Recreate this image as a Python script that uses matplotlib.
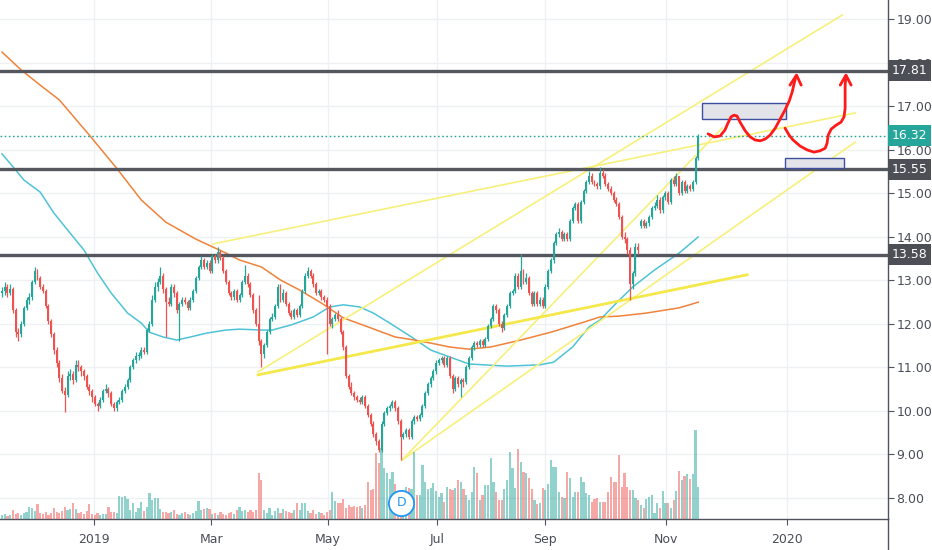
import numpy as np
import matplotlib
matplotlib.use("Agg")
import matplotlib.pyplot as plt
import matplotlib.transforms as mtransforms
from matplotlib.lines import Line2D
from matplotlib.patches import Rectangle

plt.rcParams['font.family'] = ['DejaVu Sans']

# ---- daily candles (bar index 0 .. 255) ----
closes = [
    12.75, 12.85, 12.70, 12.80, 12.30, 11.80, 11.75, 12.00, 12.35, 12.55,
    12.60, 12.95, 13.20, 13.05, 12.85, 12.75, 12.40, 12.05, 11.75, 11.40,
    11.10, 10.75, 10.45, 10.35, 10.80, 10.85, 10.70, 11.05, 11.00, 10.90,
    10.80, 10.55, 10.45, 10.30, 10.15, 10.10, 10.25, 10.45, 10.50, 10.40,
    10.15, 10.05, 10.20, 10.25, 10.45, 10.55, 10.70, 11.00, 11.15, 11.25,
    11.25, 11.40, 11.35, 11.85, 12.00, 12.55, 12.85, 12.95, 13.10, 12.80,
    12.50, 12.45, 12.85, 12.70, 12.30, 12.45, 12.55, 12.50, 12.35, 12.55,
    12.75, 13.05, 13.30, 13.45, 13.30, 13.40, 13.20, 13.55, 13.45, 13.65,
    13.50, 13.20, 12.95, 12.70, 12.60, 12.75, 12.55, 12.65, 12.95, 13.10,
    12.90, 12.65, 12.30, 12.00, 11.60, 11.30, 11.50, 11.80, 12.10, 12.15,
    12.40, 12.85, 12.55, 12.70, 12.45, 12.25, 12.15, 12.30, 12.20, 12.40,
    12.75, 13.10, 13.20, 13.10, 12.90, 12.70, 12.75, 12.60, 12.55, 12.40,
    12.00, 12.10, 12.20, 12.10, 11.80, 11.45, 10.80, 10.55, 10.40, 10.30,
    10.25, 10.20, 10.30, 10.10, 9.90, 9.70, 9.45, 9.30, 9.10, 9.70,
    9.95, 10.05, 10.10, 10.20, 10.05, 9.75, 9.40, 9.45, 9.55, 9.40,
    9.75, 9.85, 9.80, 9.90, 10.10, 10.40, 10.60, 10.75, 10.90, 11.10,
    11.15, 11.20, 11.05, 11.20, 10.80, 10.50, 10.75, 10.60, 10.70, 10.65,
    11.00, 11.20, 11.45, 11.55, 11.50, 11.60, 11.50, 11.65, 11.95, 12.10,
    12.40, 12.30, 12.00, 11.90, 12.20, 12.40, 12.70, 12.75, 13.10, 12.85,
    13.20, 12.95, 13.05, 12.70, 12.45, 12.70, 12.45, 12.55, 12.40, 12.85,
    13.20, 13.45, 13.85, 14.05, 14.10, 13.95, 14.05, 13.95, 14.35, 14.65,
    14.75, 14.35, 14.80, 15.05, 15.25, 15.40, 15.25, 15.20, 15.15, 15.45,
    15.40, 15.20, 15.10, 15.00, 14.85, 14.75, 14.45, 14.00, 13.95, 13.70,
    12.90, 13.15, 13.75, 13.70, 14.35, 14.25, 14.30, 14.45, 14.65, 14.70,
    14.85, 14.60, 14.90, 15.00, 14.80, 15.30, 15.20, 15.40, 15.00, 15.25,
    15.05, 15.15, 15.10, 15.25, 15.80, 16.32,
]
opens = [
    12.70, 12.75, 12.85, 12.70, 12.80, 12.30, 11.80, 11.75, 12.00, 12.35,
    12.55, 12.60, 12.95, 13.20, 13.05, 12.85, 12.75, 12.40, 12.05, 11.75,
    11.40, 11.10, 10.75, 10.45, 10.35, 10.80, 10.85, 10.70, 11.05, 11.00,
    10.90, 10.80, 10.55, 10.45, 10.30, 10.15, 10.10, 10.25, 10.45, 10.50,
    10.40, 10.15, 10.05, 10.20, 10.25, 10.45, 10.55, 10.70, 11.00, 11.15,
    11.25, 11.25, 11.40, 11.35, 11.85, 12.00, 12.55, 12.85, 12.95, 13.10,
    12.80, 12.50, 12.45, 12.85, 12.70, 12.30, 12.45, 12.55, 12.50, 12.35,
    12.55, 12.75, 13.05, 13.30, 13.45, 13.30, 13.40, 13.20, 13.55, 13.45,
    13.65, 13.50, 13.20, 12.95, 12.70, 12.60, 12.75, 12.55, 12.65, 12.95,
    13.10, 12.90, 12.65, 12.30, 12.00, 11.60, 11.30, 11.50, 11.80, 12.10,
    12.15, 12.40, 12.85, 12.55, 12.70, 12.45, 12.25, 12.15, 12.30, 12.20,
    12.40, 12.75, 13.10, 13.20, 13.10, 12.90, 12.70, 12.75, 12.60, 12.55,
    12.40, 12.00, 12.10, 12.20, 12.10, 11.80, 11.45, 10.80, 10.55, 10.40,
    10.30, 10.25, 10.20, 10.30, 10.10, 9.90, 9.70, 9.45, 9.30, 9.10,
    9.70, 9.95, 10.05, 10.10, 10.20, 10.05, 9.75, 9.40, 9.45, 9.55,
    9.40, 9.75, 9.85, 9.80, 9.90, 10.10, 10.40, 10.60, 10.75, 10.90,
    11.10, 11.15, 11.20, 11.05, 11.20, 10.80, 10.50, 10.75, 10.60, 10.70,
    10.65, 11.00, 11.20, 11.45, 11.55, 11.50, 11.60, 11.50, 11.65, 11.95,
    12.10, 12.40, 12.30, 12.00, 11.90, 12.20, 12.40, 12.70, 12.75, 13.10,
    12.85, 13.20, 12.95, 13.05, 12.70, 12.45, 12.70, 12.45, 12.55, 12.40,
    12.85, 13.20, 13.45, 13.85, 14.05, 14.10, 13.95, 14.05, 13.95, 14.35,
    14.65, 14.75, 14.35, 14.80, 15.05, 15.25, 15.40, 15.25, 15.20, 15.15,
    15.45, 15.40, 15.20, 15.10, 15.00, 14.85, 14.75, 14.45, 14.00, 13.95,
    13.70, 12.90, 13.15, 13.75, 14.25, 14.35, 14.25, 14.30, 14.45, 14.65,
    14.70, 14.85, 14.60, 14.90, 15.00, 14.80, 15.30, 15.20, 15.40, 15.00,
    15.25, 15.05, 15.15, 15.10, 15.25, 15.80,
]
highs = [
    12.85, 12.95, 12.90, 12.90, 12.85, 12.35, 11.90, 12.05, 12.40, 12.60,
    12.70, 13.00, 13.30, 13.25, 13.10, 12.90, 12.80, 12.45, 12.10, 11.80,
    11.45, 11.15, 10.85, 10.55, 10.90, 10.95, 10.90, 11.15, 11.15, 11.05,
    10.95, 10.85, 10.60, 10.50, 10.35, 10.20, 10.30, 10.50, 10.60, 10.55,
    10.45, 10.20, 10.25, 10.30, 10.50, 10.60, 10.75, 11.05, 11.20, 11.35,
    11.35, 11.45, 11.45, 11.90, 12.05, 12.65, 12.95, 13.05, 13.30, 13.15,
    12.85, 12.60, 12.90, 12.90, 12.75, 12.50, 12.60, 12.60, 12.55, 12.60,
    12.80, 13.10, 13.35, 13.55, 13.50, 13.45, 13.45, 13.60, 13.60, 13.75,
    13.70, 13.55, 13.25, 13.00, 12.75, 12.80, 12.80, 12.70, 13.00, 13.35,
    13.15, 12.95, 12.70, 12.35, 12.65, 11.65, 11.55, 11.85, 12.15, 12.25,
    12.45, 12.90, 12.90, 12.80, 12.75, 12.50, 12.30, 12.35, 12.35, 12.45,
    12.80, 13.15, 13.30, 13.25, 13.15, 12.95, 12.80, 12.80, 12.65, 12.60,
    12.45, 12.15, 12.25, 12.30, 12.15, 11.85, 11.50, 10.85, 10.65, 10.45,
    10.35, 10.30, 10.35, 10.35, 10.15, 9.95, 9.75, 9.50, 9.35, 9.75,
    10.00, 10.10, 10.15, 10.25, 10.25, 10.10, 9.80, 9.50, 9.60, 9.60,
    9.80, 9.90, 9.90, 9.95, 10.15, 10.45, 10.65, 10.80, 10.95, 11.15,
    11.20, 11.25, 11.25, 11.25, 11.25, 10.85, 10.80, 10.80, 10.75, 10.75,
    11.05, 11.25, 11.50, 11.60, 11.60, 11.65, 11.65, 11.70, 12.00, 12.15,
    12.45, 12.45, 12.35, 12.05, 12.25, 12.45, 12.75, 12.80, 13.15, 13.15,
    13.60, 13.25, 13.15, 13.10, 12.75, 12.75, 12.75, 12.60, 12.60, 12.90,
    13.25, 13.50, 13.90, 14.10, 14.20, 14.15, 14.10, 14.10, 14.40, 14.70,
    14.80, 14.80, 14.85, 15.10, 15.30, 15.50, 15.45, 15.30, 15.25, 15.60,
    15.55, 15.45, 15.25, 15.15, 15.05, 14.90, 14.80, 14.50, 14.10, 14.00,
    13.75, 13.20, 13.85, 13.85, 14.40, 14.40, 14.35, 14.50, 14.70, 14.80,
    14.95, 14.90, 14.95, 15.05, 15.05, 15.35, 15.40, 15.45, 15.40, 15.30,
    15.30, 15.20, 15.20, 15.30, 15.85, 16.35,
]
lows = [
    12.60, 12.65, 12.60, 12.65, 12.25, 11.70, 11.60, 11.70, 11.95, 12.30,
    12.45, 12.55, 12.90, 13.00, 12.80, 12.70, 12.35, 12.00, 11.70, 11.30,
    11.00, 10.65, 10.40, 9.97, 10.30, 10.70, 10.60, 10.65, 10.90, 10.80,
    10.70, 10.50, 10.35, 10.20, 10.10, 10.00, 10.05, 10.20, 10.40, 10.30,
    10.10, 10.00, 10.00, 10.15, 10.20, 10.40, 10.50, 10.65, 10.95, 11.10,
    11.15, 11.20, 11.30, 11.30, 11.80, 11.95, 12.50, 12.75, 12.90, 12.70,
    11.70, 12.40, 12.40, 12.60, 12.25, 11.60, 12.40, 12.45, 12.30, 12.30,
    12.50, 12.70, 13.00, 13.25, 13.25, 13.25, 13.15, 13.15, 13.40, 13.40,
    13.45, 13.15, 12.90, 12.65, 12.55, 12.55, 12.50, 12.50, 12.60, 12.90,
    12.85, 12.60, 12.25, 11.95, 11.50, 11.00, 11.20, 11.45, 11.75, 12.05,
    12.10, 12.35, 12.50, 12.50, 12.40, 12.20, 12.10, 12.10, 12.15, 12.15,
    12.35, 12.70, 13.05, 13.05, 12.85, 12.65, 12.65, 12.55, 12.50, 11.30,
    11.95, 11.90, 12.05, 12.05, 11.75, 11.40, 10.75, 10.50, 10.35, 10.25,
    10.20, 10.15, 10.15, 10.05, 9.85, 9.65, 9.40, 9.20, 9.05, 9.05,
    9.65, 9.90, 10.00, 10.05, 10.00, 9.70, 8.86, 9.35, 9.40, 9.35,
    9.35, 9.70, 9.75, 9.75, 9.85, 10.05, 10.35, 10.55, 10.70, 10.85,
    11.05, 11.10, 11.00, 11.00, 10.75, 10.40, 10.45, 10.55, 10.30, 10.55,
    10.60, 10.95, 11.15, 11.40, 11.45, 11.45, 11.45, 11.45, 11.60, 11.90,
    12.05, 12.25, 11.95, 11.80, 11.85, 12.15, 12.35, 12.65, 12.70, 12.80,
    12.80, 12.90, 12.90, 12.65, 12.40, 12.40, 12.40, 12.40, 12.35, 12.35,
    12.80, 13.15, 13.40, 13.80, 14.00, 13.90, 13.90, 13.90, 13.90, 14.30,
    14.60, 14.30, 14.30, 14.75, 15.00, 15.20, 15.20, 15.15, 15.10, 15.10,
    15.35, 15.15, 15.05, 14.95, 14.80, 14.70, 14.40, 13.95, 13.85, 13.60,
    12.54, 12.80, 13.10, 13.60, 14.20, 14.20, 14.20, 14.25, 14.40, 14.60,
    14.65, 14.55, 14.55, 14.85, 14.75, 14.75, 15.15, 15.15, 14.95, 14.95,
    15.00, 15.00, 15.05, 15.05, 15.20, 15.75,
]
volumes = [
    4, 5, 3, 4, 9, 5, 6, 4, 6, 7, 12, 11, 8, 15, 6, 5, 7, 4, 6, 11,
    7, 6, 8, 12, 9, 10, 16, 10, 6, 7, 5, 8, 15, 5, 4, 6, 4, 5, 5, 12,
    7, 7, 6, 23, 22, 23, 20, 9, 16, 7, 11, 17, 8, 12, 26, 19, 21, 21, 10, 7,
    7, 6, 7, 9, 5, 4, 6, 7, 5, 4, 6, 8, 18, 9, 10, 11, 10, 5, 6, 4,
    7, 5, 4, 6, 7, 5, 9, 12, 8, 9, 7, 9, 7, 9, 46, 39, 9, 6, 11, 4,
    8, 11, 6, 10, 8, 7, 6, 9, 16, 9, 16, 16, 8, 6, 9, 5, 7, 6, 4, 7,
    9, 27, 18, 16, 16, 20, 11, 14, 12, 13,
    12, 13, 11, 14, 37, 29, 30, 66, 56, 71, 51, 46, 40, 47, 35, 27, 27, 29, 32, 31,
    30, 67, 24, 24, 54, 37, 30, 31, 36, 28, 22,
    26, 17, 32, 30, 29, 31, 39, 37, 30, 24, 19, 27, 52, 46, 19, 24, 34, 34, 61,
    37, 27, 19, 19, 30, 39, 67, 51, 31, 70,
    57, 47, 46, 41, 30, 19, 15, 16, 31, 29,
    35, 59, 52, 52, 27, 22, 21, 47, 41, 22,
    27, 27, 42, 37, 26, 24, 17, 20, 21, 17,
    17, 17, 27, 42, 37, 37, 64, 32, 46, 32,
    29, 29, 21, 19, 14, 11, 20, 22, 24, 6,
    16, 11, 28, 16, 16, 11, 19, 28, 48, 39,
    43, 45, 40, 45, 89, 32,
]

# moving averages, sampled along the chart (bar index, price)
ma_fast_bars = [0, 5, 8, 14, 19, 27, 30, 35, 40, 46, 51, 54, 59, 64, 69, 75, 82, 87,
                95, 99, 106, 114, 120, 125, 131, 136, 142, 150, 157, 164, 171, 185,
                197, 202, 209, 215, 219, 225, 231, 239, 248, 255]
ma_fast = [15.90, 15.53, 15.30, 15.02, 14.54, 13.92, 13.69, 13.16, 12.70, 12.24,
           12.01, 11.80, 11.69, 11.62, 11.69, 11.78, 11.85, 11.87, 11.85, 11.85,
           11.97, 12.15, 12.38, 12.43, 12.38, 12.24, 12.01, 11.69, 11.39, 11.23,
           11.07, 11.02, 11.05, 11.11, 11.46, 11.92, 12.08, 12.47, 12.84, 13.23,
           13.62, 13.99]
ma_slow_bars = [0, 7, 14, 21, 32, 42, 51, 60, 71, 82, 87, 95, 102, 109, 117, 125,
                135, 144, 151, 157, 164, 171, 179, 190, 201, 212, 219, 226, 236, 248, 255]
ma_slow = [18.24, 17.83, 17.48, 17.14, 16.33, 15.57, 14.84, 14.33, 13.94, 13.62,
           13.46, 13.30, 13.00, 12.77, 12.47, 12.13, 11.90, 11.69, 11.62, 11.55,
           11.46, 11.41, 11.46, 11.62, 11.80, 12.01, 12.15, 12.17, 12.24, 12.36, 12.49]

# levels and drawings
levels = [17.81, 15.55, 13.58]
last_price = 16.32
trendlines = [  # (bar0, price0, bar1, price1)
    (77.3, 13.83, 312.5, 16.84),
    (93.8, 10.89, 307.7, 19.09),
    (146.5, 8.86, 263.7, 16.49),
    (146.5, 8.86, 312.5, 16.17),
]
support_line = (93.8, 10.82, 272.9, 13.12)
zones = [(256.3, 16.70, 287.2, 17.08), (286.8, 15.57, 308.5, 15.80)]
path1_x = [258.6, 260.8, 263.0, 264.8, 265.9, 267.0, 268.1, 269.2, 270.3, 272.2, 274.0,
           275.8, 277.7, 279.5, 281.3, 283.2, 285.0, 286.8, 288.3, 289.4, 290.1, 290.8]
path1_y = [16.36, 16.29, 16.31, 16.45, 16.61, 16.75, 16.79, 16.77, 16.63, 16.43, 16.29,
           16.22, 16.20, 16.24, 16.33, 16.49, 16.70, 16.91, 17.11, 17.32, 17.51, 17.69]
arrow1_x = [288.6, 291.0, 292.7]
arrow1_y = [17.48, 17.71, 17.48]
path2_x = [286.8, 288.3, 289.7, 292.3, 294.9, 297.4, 299.6, 301.5, 302.2, 302.6, 303.7,
           305.5, 307.3, 308.4, 308.8, 308.8, 308.8, 309.1]
path2_y = [16.49, 16.33, 16.22, 16.08, 15.99, 15.94, 15.97, 16.03, 16.15, 16.33, 16.47,
           16.56, 16.63, 16.75, 16.95, 17.25, 17.48, 17.69]
arrow2_x = [307.0, 309.1, 311.0]
arrow2_y = [17.48, 17.71, 17.48]
dividend_bar = 146.2

date_ticks = [33.7, 76.6, 119.4, 159.3, 199.0, 243.2, 287.5]
date_labels = ['2019', 'Mar', 'May', 'Jul', 'Sep', 'Nov', '2020']
price_ticks = [8, 9, 10, 11, 12, 13, 14, 15, 16, 17, 18, 19]

UP = '#26a69a'
DOWN = '#ef5350'
AXC = '#50535e'

o = np.array(opens)
c = np.array(closes)
h = np.maximum(np.array(highs), np.maximum(o, c))
l = np.minimum(np.array(lows), np.minimum(o, c))
x = np.arange(len(c))
up = c >= o
cols = np.where(up, UP, DOWN)

fig = plt.figure(figsize=(9.32, 5.5), dpi=100)
ax = fig.add_axes([0, 31 / 550, 888 / 932, 519 / 550])
ax_v = ax.twinx()

# candles
ax.vlines(x, l, h, colors=cols, lw=0.9, zorder=3)
body = np.maximum(np.abs(c - o), 0.02)
ax.bar(x, body, bottom=np.minimum(o, c), width=0.72, color=cols, lw=0, zorder=3)

# moving averages
ax.plot(ma_fast_bars, ma_fast, color='#4fc3d6', lw=1.1, zorder=2)
ax.plot(ma_slow_bars, ma_slow, color='#f0823a', lw=1.1, zorder=2)

# trend lines
for x0, y0, x1, y1 in trendlines:
    ax.plot([x0, x1], [y0, y1], color='#f7f07a', lw=1.2, zorder=2.5)
ax.plot([support_line[0], support_line[2]], [support_line[1], support_line[3]],
        color='#f4e84a', lw=2.0, zorder=2.5)

# horizontal levels
for lv in levels:
    ax.axhline(lv, color='#55575f', lw=2.4, zorder=2.6)
ax.axhline(last_price, color=UP, lw=1.0, ls=(0, (1.2, 1.8)), zorder=2.6)

# zones
for x0, y0, x1, y1 in zones:
    ax.add_patch(Rectangle((x0, y0), x1 - x0, y1 - y0, facecolor='#e3e4ea',
                           edgecolor='#3f4f9f', lw=1.0, zorder=4))

# freehand arrows
for px, py in [(path1_x, path1_y), (path2_x, path2_y), (arrow1_x, arrow1_y), (arrow2_x, arrow2_y)]:
    ax.plot(px, py, color='#ff1a1a', lw=2.0, solid_capstyle='round',
            solid_joinstyle='round', zorder=5)

# volume
ax_v.bar(x, volumes, width=0.8, color=cols, alpha=0.5, lw=0, zorder=1)
ax_v.set_ylim(0, max(volumes) * 519 / 89)
ax_v.scatter([dividend_bar], [16], s=330, facecolor='white', edgecolor='#2196f3',
             lw=1.3, zorder=6, clip_on=False)
ax_v.text(dividend_bar, 16, 'D', color='#2196f3', fontsize=9, ha='center',
          va='center', zorder=7)
ax_v.axis('off')

# axes styling
ax.set_xlim(-0.73, 324.5)
ax.set_ylim(7.506, 19.437)
ax.set_xticks(date_ticks, date_labels)
ax.set_yticks(price_ticks, [f'{p:.2f}' for p in price_ticks])
ax.yaxis.tick_right()
ax.grid(True, color='#eef0f4', lw=1.0, zorder=0)
ax.set_axisbelow(True)
for s in ['left', 'top']:
    ax.spines[s].set_visible(False)
for s in ['right', 'bottom']:
    ax.spines[s].set_color(AXC)
    ax.spines[s].set_linewidth(1.0)
ax.tick_params(axis='y', length=4, color=AXC, labelsize=9, labelcolor='#4a4e59', pad=2)
ax.tick_params(axis='x', length=4, color=AXC, labelsize=9, labelcolor='#4a4e59', pad=6)
fig.add_artist(Line2D([888 / 932, 888 / 932], [0, 31 / 550], color=AXC, lw=1.0))

# price labels on the axis
tr = mtransforms.blended_transform_factory(ax.transAxes, ax.transData)
for lv in levels:
    ax.text(1.004, lv, f'{lv:.2f}', transform=tr, ha='left', va='center', fontsize=9,
            color='white', zorder=10,
            bbox=dict(boxstyle='square,pad=0.32', fc='#4d4f57', ec='none'))
ax.text(1.004, last_price, f'{last_price:.2f}', transform=tr, ha='left', va='center',
        fontsize=9, color='white', zorder=10,
        bbox=dict(boxstyle='square,pad=0.32', fc=UP, ec='none'))

fig.savefig('out.png', dpi=100, facecolor='white')
